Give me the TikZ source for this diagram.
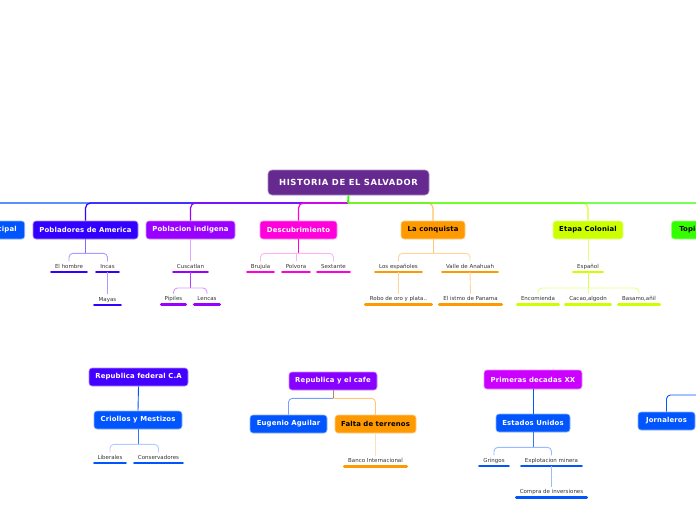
\documentclass[tikz,border=0pt]{standalone}
\usepackage{fontspec}
\setmainfont{DejaVu Sans}
\newfontfamily\topicfont[LetterSpace=2]{DejaVu Sans}
\newfontfamily\centralfont[LetterSpace=7]{DejaVu Sans}
\usetikzlibrary{calc}
\definecolor{cCentral}{HTML}{65298F}
\definecolor{cBlue}{HTML}{0055FF}
\definecolor{cPobl}{HTML}{3300FF}
\definecolor{cIndi}{HTML}{9900FF}
\definecolor{cDesc}{HTML}{FF00DD}
\definecolor{cConq}{HTML}{FF9900}
\definecolor{cColo}{HTML}{CCFF00}
\definecolor{cTopi}{HTML}{33FF00}
\definecolor{cFed}{HTML}{4400FF}
\definecolor{cCafe}{HTML}{8800FF}
\definecolor{cPrim}{HTML}{CC00FF}
\definecolor{cStem}{HTML}{B08A5A}
\definecolor{cLabel}{HTML}{333333}
\tikzset{
  topic/.style={rectangle, rounded corners=3pt, minimum height=18pt, inner sep=0pt,
    font=\topicfont\fontsize{6.9}{8}\selectfont\bfseries, text=white, fill=#1, draw=#1!45!white, line width=0.6pt},
  darktopic/.style={topic=#1, text=black},
  leaf/.style={anchor=south, inner xsep=0pt, inner ysep=2.5pt, text height=4pt, text depth=1.3pt,
    font=\fontsize{5.5}{6.5}\selectfont, text=cLabel, minimum width=#1},
  ul/.style={line width=2.6pt, line cap=round},
  link/.style={line width=0.9pt, rounded corners=4pt},
  mainlink/.style={line width=1.2pt, rounded corners=5pt},
}
\newcommand\leafnode[6]{%
  \node[leaf=#5] (#1) at (#2,#3) {#6};
  \draw[ul,#4] ([xshift=1.5pt]#1.south west) -- ([xshift=-1.5pt]#1.south east);}
\begin{document}
\begin{tikzpicture}[x=1pt,y=-1pt]
\path[use as bounding box] (0,0) rectangle (696,520);
\clip (0,0) rectangle (696,520);

% central
\node[rectangle, rounded corners=4pt, minimum width=161pt, minimum height=25pt, inner sep=0pt,
  fill=cCentral, draw=cCentral!55!white, line width=0.6pt, text=white,
  font=\centralfont\fontsize{8.4}{9}\selectfont\bfseries] (central) at (348.5,182.5) {HISTORIA DE EL SALVADOR};
\coordinate (hub) at (348,203);

% first level topics
\node[topic=cBlue, anchor=east, inner xsep=8pt] (princ) at (25,230) {Tema principal};
\node[topic=cPobl, minimum width=105pt] (pob) at (85.5,230) {Pobladores de America};
\node[topic=cIndi, minimum width=89pt] (indi) at (190.5,230) {Poblacion indigena};
\node[topic=cDesc, minimum width=77pt] (desc) at (298.5,230) {Descubrimiento};
\node[darktopic=cConq, minimum width=64pt] (conq) at (433,230) {La conquista};
\node[darktopic=cColo, minimum width=70pt] (colo) at (588,230) {Etapa Colonial};
\node[darktopic=cTopi, anchor=west, inner xsep=8pt] (topi) at (671,230) {Topico nuevo};

% main connectors
\draw[mainlink, cBlue] (hub) -| (princ.north);
\draw[mainlink, cPobl] (hub) -| (pob.north);
\draw[mainlink, cIndi] (hub) -| (indi.north);
\draw[mainlink, cDesc] (hub) -| (desc.north);
\draw[mainlink, cColo!80!white] (hub) -| (colo.north);
\draw[mainlink, cConq!60!white] (hub) -| (conq.north);
\draw[mainlink, cTopi] (hub) -| (topi.north);
\draw[line width=1.8pt, cTopi] (central.south) -- (hub);

% Pobladores de America
\leafnode{hombre}{69}{272}{cPobl}{38pt}{El hombre}
\leafnode{incas}{107.5}{272}{cPobl}{25pt}{Incas}
\leafnode{mayas}{107.5}{305}{cPobl}{29pt}{Mayas}
\draw[link, cPobl!60!white] (pob.south) -- ($(pob.south)+(0,14)$);
\draw[link, cPobl!40!white] (hombre.north) |- ($(pob.south)+(0,14)$) -| (incas.north);
\draw[link, cPobl!40!white] (incas.south) -- (mayas.north);

% Poblacion indigena
\leafnode{cusc}{190.5}{272}{cIndi}{37pt}{Cuscatlan}
\leafnode{pipiles}{173.5}{304.5}{cIndi}{27pt}{Pipiles}
\leafnode{lencas}{207}{304.5}{cIndi}{28pt}{Lencas}
\draw[link, cIndi!35!white] (indi.south) -- (cusc.north);
\draw[link, cIndi!75!white] (cusc.south) -- ($(cusc.south)+(0,16)$);
\draw[link, cIndi!40!white] (pipiles.north) |- ($(cusc.south)+(0,16)$) -| (lencas.north);

% Descubrimiento
\leafnode{brujula}{260.5}{272}{cDesc}{29pt}{Brujula}
\leafnode{polvora}{296}{272}{cDesc}{30pt}{Polvora}
\leafnode{sextante}{333.5}{272}{cDesc}{35pt}{Sextante}
\coordinate (dm) at ($(desc.south)+(0,14)$);
\draw[link, cDesc] (desc.south) -- (dm);
\draw[link, cDesc!30!white] (brujula.north) |- (dm) -| (sextante.north);
\draw[link, cDesc!30!white] (polvora.north) -- (polvora.north |- dm);

% La conquista
\leafnode{espanoles}{398.5}{272}{cConq}{49pt}{Los españoles}
\leafnode{valle}{470}{272}{cConq}{58pt}{Valle de Anahuah}
\leafnode{robo}{398.5}{304.5}{cConq}{69pt}{Robo de oro y plata..}
\leafnode{istmo}{470.5}{304.5}{cConq}{65pt}{El istmo de Panama}
\draw[link, cConq!55!white] (conq.south) -- ($(conq.south)+(0,14)$);
\draw[link, cConq!40!white] (espanoles.north) |- ($(conq.south)+(0,14)$) -| (valle.north);
\draw[link, cConq!40!white] (espanoles.south) -- (robo.north);
\draw[link, cConq!40!white] (valle.south) -- (istmo.north);

% Etapa Colonial
\leafnode{espanol}{588}{272}{cColo}{32pt}{Español}
\leafnode{encom}{538}{304.5}{cColo}{44pt}{Encomienda}
\leafnode{cacao}{588}{304.5}{cColo}{48pt}{Cacao,algodn}
\leafnode{basamo}{639}{304.5}{cColo}{44pt}{Basamo,añil}
\coordinate (cm) at ($(espanol.south)+(0,16)$);
\draw[link, cColo!55!white] (colo.south) -- (espanol.north);
\draw[link, cColo!70!white] (espanol.south) -- (cm);
\draw[link, cColo!50!white] (encom.north) |- (cm) -| (basamo.north);
\draw[link, cColo!50!white] (cacao.north) -- (cacao.north |- cm);

% Republica federal C.A
\node[topic=cFed, minimum width=99pt] (fed) at (138.5,377) {Republica federal C.A};
\node[topic=cBlue, minimum width=88pt] (crio) at (138,420) {Criollos y Mestizos};
\leafnode{liber}{110}{463}{cBlue}{34pt}{Liberales}
\leafnode{conse}{158.5}{463}{cBlue}{51pt}{Conservadores}
\draw[link, cBlue] (fed.south) -- (crio.north);
\draw[link, cBlue!80!white] (crio.south) -- ($(crio.south)+(0,15)$);
\draw[link, cBlue!30!white] (liber.north) |- ($(crio.south)+(0,15)$) -| (conse.north);

% Republica y el cafe
\node[topic=cCafe, minimum width=88pt] (cafe) at (333,381) {Republica y el cafe};
\node[topic=cBlue, minimum width=77pt] (eug) at (288.5,424) {Eugenio Aguilar};
\node[darktopic=cConq, minimum width=81pt] (falta) at (375.5,424) {Falta de terrenos};
\leafnode{banco}{375.5}{466.5}{cConq}{65pt}{Banco Internacional}
\coordinate (rm) at ($(cafe.south)+(0,8)$);
\draw[link, cBlue!55!white] (eug.north) |- (rm);
\draw[link, cConq!55!white] (falta.north) |- (rm);
\draw[link, cStem] (cafe.south) -- (rm);
\draw[link, cConq!30!white] (falta.south) -- (banco.north);

% Primeras decadas XX
\node[topic=cPrim, minimum width=98pt, minimum height=19pt] (prim) at (533,379.5) {Primeras decadas XX};
\node[topic=cBlue, minimum width=74pt] (eeuu) at (533,423) {Estados Unidos};
\leafnode{gringos}{494}{466}{cBlue}{32pt}{Gringos}
\leafnode{explot}{551.5}{466}{cBlue}{63pt}{Explotacion minera}
\leafnode{compra}{551.5}{497.5}{cBlue}{73pt}{Compra de inversiones}
\draw[link, cBlue] (prim.south) -- (eeuu.north);
\draw[link, cBlue!80!white] (eeuu.south) -- ($(eeuu.south)+(0,15)$);
\draw[link, cBlue!40!white] (gringos.north) |- ($(eeuu.south)+(0,15)$) -| (explot.north);
\draw[link, cBlue!40!white] (explot.south) -- (compra.north);

% Jornaleros
\node[topic=cBlue, minimum width=57pt] (jorn) at (666.5,421) {Jornaleros};
\coordinate (jr) at (705,395);
\draw[link, cBlue] (jorn.north) |- (jr);
\end{tikzpicture}
\end{document}
